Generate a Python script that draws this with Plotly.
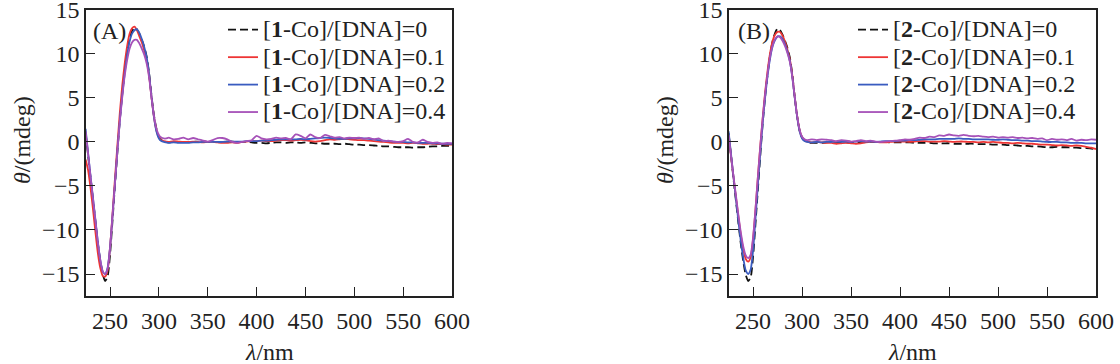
import numpy as np
import plotly.graph_objects as go

# wavelength grid (nm): 2.5 nm steps through the bands, 5 nm steps on the baseline
wavelength = list(np.arange(225, 310.1, 2.5)) + list(range(315, 601, 5))

# ---------------- Panel A : [1-Co]/[DNA] ----------------
A_r0_peak = [1.0, -1.5, -4.0, -6.5, -9.0, -11.5, -13.5, -15.0, -15.8, -15.3, -12.8, -9.0, -5.0, -1.2, 2.5,
             5.5, 8.0, 10.2, 11.7, 12.6, 13.0, 12.8, 12.3, 11.6, 10.8, 9.7, 7.8, 5.2, 3.0, 1.5,
             0.6, 0.25, 0.1, 0.0, -0.05]
A_r0_base = [0.0, 0.0, 0.0, 0.0, 0.0, 0.05, 0.05, 0.0, 0.0, 0.0, 0.0, 0.05, 0.05, 0.0, 0.0, 0.0, -0.05, -0.1,
             -0.1, -0.15, -0.1, -0.05, -0.05, -0.1, -0.05, -0.05, -0.1, -0.05, -0.1, -0.15, -0.15, -0.2, -0.2,
             -0.2, -0.25, -0.2, -0.25, -0.3, -0.3, -0.35, -0.35, -0.4, -0.45, -0.5, -0.5, -0.55, -0.6, -0.6,
             -0.6, -0.65, -0.6, -0.6, -0.55, -0.5, -0.5, -0.45, -0.45, -0.45]

A_r1_peak = [-2.0, -3.2, -5.2, -7.6, -10.2, -12.6, -14.3, -15.2, -15.3, -14.6, -12.0, -8.2, -4.2, -0.4, 3.3,
             6.4, 8.9, 10.9, 12.3, 12.9, 13.1, 12.7, 12.0, 11.3, 10.4, 9.3, 7.5, 5.0, 2.8, 1.3,
             0.5, 0.2, 0.1, 0.05, 0.0]
A_r1_base = [0.1, 0.05, 0.0, 0.0, 0.05, 0.0, -0.05, 0.0, 0.0, -0.05, -0.1, -0.1, -0.05, -0.1, 0.0, 0.05, 0.1, 0.1,
             0.15, 0.1, 0.1, 0.15, 0.2, 0.2, 0.15, 0.2, 0.25, 0.2, 0.1, 0.05, 0.1, 0.2, 0.3, 0.25, 0.3, 0.35,
             0.3, 0.25, 0.2, 0.2, 0.15, 0.1, 0.05, 0.0, -0.05, -0.1, -0.1, -0.1, -0.15, -0.1, -0.15, -0.2,
             -0.2, -0.2, -0.25, -0.25, -0.3, -0.3]

A_r2_peak = [1.5, -1.2, -3.8, -6.3, -8.8, -11.3, -13.4, -14.7, -15.0, -14.3, -12.0, -8.5, -4.8, -1.0, 2.4,
             5.3, 7.8, 9.9, 11.4, 12.3, 12.7, 12.8, 12.4, 11.7, 10.8, 9.6, 7.7, 5.1, 2.8, 1.2,
             0.4, 0.1, 0.0, -0.05, -0.1]
A_r2_base = [-0.05, -0.1, -0.1, -0.1, -0.05, -0.05, 0.0, 0.0, 0.0, 0.0, 0.0, 0.05, 0.05, 0.05, 0.05, 0.1, 0.1, 0.1,
             0.15, 0.15, 0.2, 0.25, 0.3, 0.3, 0.3, 0.3, 0.35, 0.3, 0.35, 0.4, 0.45, 0.5, 0.45, 0.4, 0.35, 0.35,
             0.4, 0.4, 0.45, 0.4, 0.35, 0.3, 0.2, 0.15, 0.1, 0.05, 0.0, 0.0, -0.05, -0.05, -0.1, -0.1, -0.1,
             -0.15, -0.15, -0.2, -0.2, -0.2]

A_r4_peak = [1.2, -1.3, -3.9, -6.4, -8.9, -11.4, -13.4, -14.7, -15.0, -14.4, -12.0, -8.4, -4.8, -1.1, 2.3,
             5.1, 7.5, 9.3, 10.6, 11.3, 11.6, 11.6, 11.2, 10.6, 9.9, 8.9, 7.3, 5.0, 2.9, 1.5,
             0.8, 0.5, 0.4, 0.4, 0.5]
A_r4_base = [0.3, 0.35, 0.5, 0.3, 0.45, 0.3, 0.15, 0.05, 0.2, 0.45, 0.45, 0.3, 0.0, -0.1, 0.0, 0.1, 0.2, 0.7,
             0.4, 0.3, 0.35, 0.5, 0.4, 0.45, 0.3, 0.85, 0.7, 0.4, 0.85, 0.55, 0.45, 0.8, 0.65, 0.5, 0.55, 0.4,
             0.5, 0.45, 0.5, 0.35, 0.45, 0.3, 0.4, 0.1, 0.15, 0.05, 0.0, 0.1, 0.35, 0.0, -0.05, 0.25, 0.0,
             -0.1, -0.05, -0.2, -0.1, -0.15]

# ---------------- Panel B : [2-Co]/[DNA] ----------------
B_r0_peak = [1.0, -1.6, -4.2, -6.7, -9.2, -11.6, -13.6, -15.1, -15.8, -15.4, -13.0, -9.2, -5.2, -1.3, 2.4,
             5.4, 7.9, 10.0, 11.5, 12.4, 12.9, 12.7, 12.2, 11.5, 10.7, 9.6, 7.7, 5.1, 2.9, 1.3,
             0.5, 0.2, 0.0, -0.1, -0.1]
B_r0_base = [-0.1, -0.1, -0.05, 0.0, 0.0, -0.05, -0.05, -0.1, -0.05, 0.0, 0.0, 0.0, 0.0, 0.0, 0.0, -0.05, -0.05, -0.05,
             -0.05, -0.05, -0.1, -0.1, -0.1, -0.1, -0.15, -0.15, -0.15, -0.15, -0.2, -0.2, -0.2, -0.2, -0.2,
             -0.25, -0.25, -0.25, -0.3, -0.3, -0.3, -0.35, -0.35, -0.4, -0.45, -0.45, -0.5, -0.5, -0.55, -0.6,
             -0.6, -0.55, -0.6, -0.6, -0.65, -0.65, -0.7, -0.7, -0.75, -0.8]

B_r1_peak = [0.8, -1.6, -4.0, -6.3, -8.5, -10.6, -12.2, -13.3, -13.6, -13.1, -11.0, -7.6, -3.8, -0.2, 3.0,
             5.9, 8.3, 10.2, 11.5, 12.2, 12.5, 12.5, 12.1, 11.4, 10.5, 9.4, 7.6, 5.1, 2.9, 1.3,
             0.5, 0.2, 0.05, 0.0, -0.05]
B_r1_base = [0.0, -0.05, -0.1, -0.1, -0.2, -0.15, -0.1, -0.15, -0.2, -0.15, -0.05, 0.0, 0.0, -0.05, -0.05, 0.0, 0.05, 0.05,
             0.05, 0.0, 0.05, 0.1, 0.1, 0.05, 0.05, 0.05, 0.1, 0.05, 0.0, 0.05, 0.05, 0.0, 0.0, -0.05, 0.0,
             -0.05, 0.0, -0.05, -0.1, -0.1, -0.15, -0.1, -0.15, -0.2, -0.2, -0.25, -0.3, -0.3, -0.35, -0.4,
             -0.35, -0.4, -0.45, -0.4, -0.45, -0.55, -0.65, -0.8]

B_r2_peak = [1.2, -1.4, -4.0, -6.5, -9.0, -11.3, -13.2, -14.6, -15.0, -14.5, -12.3, -8.6, -4.7, -1.0, 2.4,
             5.3, 7.7, 9.6, 10.9, 11.6, 12.0, 12.0, 11.7, 11.1, 10.3, 9.2, 7.4, 5.0, 2.8, 1.2,
             0.4, 0.1, 0.0, -0.05, -0.05]
B_r2_base = [0.0, -0.05, 0.0, 0.0, 0.05, 0.0, 0.05, 0.0, 0.05, 0.1, 0.05, 0.05, 0.0, 0.05, 0.1, 0.1, 0.1, 0.15,
             0.15, 0.2, 0.2, 0.25, 0.3, 0.3, 0.3, 0.35, 0.35, 0.35, 0.35, 0.4, 0.35, 0.35, 0.3, 0.3, 0.3, 0.3,
             0.25, 0.25, 0.3, 0.25, 0.2, 0.2, 0.15, 0.15, 0.1, 0.1, 0.05, 0.0, 0.0, 0.0, -0.05, -0.05, -0.1,
             -0.1, -0.1, -0.15, -0.15, -0.15]

B_r4_peak = [0.8, -1.6, -3.9, -6.1, -8.3, -10.3, -11.9, -12.9, -13.2, -12.8, -10.8, -7.5, -3.8, -0.3, 2.9,
             5.7, 8.0, 9.8, 11.0, 11.7, 12.0, 11.9, 11.5, 10.9, 10.1, 9.1, 7.4, 5.1, 2.9, 1.4,
             0.6, 0.3, 0.2, 0.25, 0.3]
B_r4_base = [0.2, 0.3, 0.25, 0.2, 0.1, 0.2, 0.15, 0.05, 0.1, 0.2, 0.1, 0.15, 0.05, 0.0, 0.05, 0.1, 0.15, 0.2,
             0.3, 0.25, 0.35, 0.5, 0.45, 0.6, 0.55, 0.75, 0.7, 0.85, 0.75, 0.7, 0.8, 0.7, 0.65, 0.7, 0.6, 0.55,
             0.6, 0.5, 0.55, 0.5, 0.55, 0.45, 0.5, 0.4, 0.45, 0.35, 0.4, 0.2, 0.35, 0.25, 0.3, 0.2, 0.35, 0.15,
             0.25, 0.2, 0.3, 0.25]

ratios = ["0", "0.1", "0.2", "0.4"]
colors = ["#111111", "#ee3535", "#3a5cc0", "#a651b8"]

panel_A = [A_r0_peak + A_r0_base, A_r1_peak + A_r1_base, A_r2_peak + A_r2_base, A_r4_peak + A_r4_base]
panel_B = [B_r0_peak + B_r0_base, B_r1_peak + B_r1_base, B_r2_peak + B_r2_base, B_r4_peak + B_r4_base]

FONT = "Liberation Serif, Times New Roman, serif"
W, H = 1120, 364
TXT = 24

fig = go.Figure()

for panel, complex_id, xa, ya, leg in [(panel_A, "1", "x", "y", "legend"), (panel_B, "2", "x2", "y2", "legend2")]:
    for i, ys in enumerate(panel):
        fig.add_trace(go.Scatter(
            x=wavelength, y=ys, mode="lines",
            name=(f'<span style="font-size:{TXT}px">[<b>{complex_id}</b>-Co]/[DNA]={ratios[i]}</span>'),
            line=dict(color=colors[i], width=1.8, shape="spline", smoothing=0.6,
                      dash="8px,4px" if i == 0 else "solid"),
            xaxis=xa, yaxis=ya, legend=leg,
        ))

def xax(domain, anchor):
    return dict(domain=domain, range=[225.4, 600], tickvals=[250, 300, 350, 400, 450, 500, 550, 600],
                ticks="inside", ticklen=9, tickwidth=1.3, tickcolor="#222", anchor=anchor,
                showline=True, linewidth=1.5, linecolor="#222", mirror=True,
                showgrid=False, zeroline=False, automargin=False, ticklabelstandoff=2,
                ticklabeloverflow="allow",
                tickfont=dict(family=FONT, size=TXT, color="#222"))

def yax(anchor):
    return dict(domain=[1 - 296 / H, 1 - 9.5 / H], range=[-17.5, 15.05], tickvals=[-15, -10, -5, 0, 5, 10, 15],
                ticks="inside", ticklen=9, tickwidth=1.3, tickcolor="#222",
                showline=True, linewidth=1.5, linecolor="#222", mirror=True,
                showgrid=False, zeroline=False, anchor=anchor, automargin=False,
                ticklabeloverflow="allow",
                tickfont=dict(family=FONT, size=TXT, color="#222"))

leg_common = dict(xanchor="left", yanchor="top", bgcolor="rgba(0,0,0,0)",
                  font=dict(family=FONT, size=18.8, color="#222"), tracegroupgap=0, itemwidth=30)

fig.update_layout(
    width=W, height=H,
    margin=dict(l=0, r=0, t=0, b=0, autoexpand=False),
    paper_bgcolor="white", plot_bgcolor="white",
    xaxis=xax([86 / W, 452 / W], "y"), yaxis=yax("x"),
    xaxis2=xax([729 / W, 1096 / W], "y2"), yaxis2=yax("x2"),
    legend=dict(x=223 / W, y=1 - 11 / H, **leg_common),
    legend2=dict(x=853 / W, y=1 - 11 / H, **leg_common),
    showlegend=True,
    hovermode=False,
)

ann_font = dict(family=FONT, size=TXT, color="#222")
annotations = [
    dict(text="(A)", x=91 / W, y=1 - 31 / H, xanchor="left", yanchor="middle"),
    dict(text="(B)", x=736 / W, y=1 - 31 / H, xanchor="left", yanchor="middle"),
    dict(text="<i>λ</i>/nm", x=269 / W, y=1 - 352 / H, xanchor="center", yanchor="middle"),
    dict(text="<i>λ</i>/nm", x=912 / W, y=1 - 352 / H, xanchor="center", yanchor="middle"),
    dict(text="<i>θ</i>/(mdeg)", x=22 / W, y=1 - 140 / H, xanchor="center", yanchor="middle", textangle=-90),
    dict(text="<i>θ</i>/(mdeg)", x=665 / W, y=1 - 140 / H, xanchor="center", yanchor="middle", textangle=-90),
]
for a in annotations:
    fig.add_annotation(xref="paper", yref="paper", showarrow=False, font=ann_font, **a)

fig.write_html("out.html", config={"displayModeBar": False},
               post_script="document.body.style.margin='0px';")
